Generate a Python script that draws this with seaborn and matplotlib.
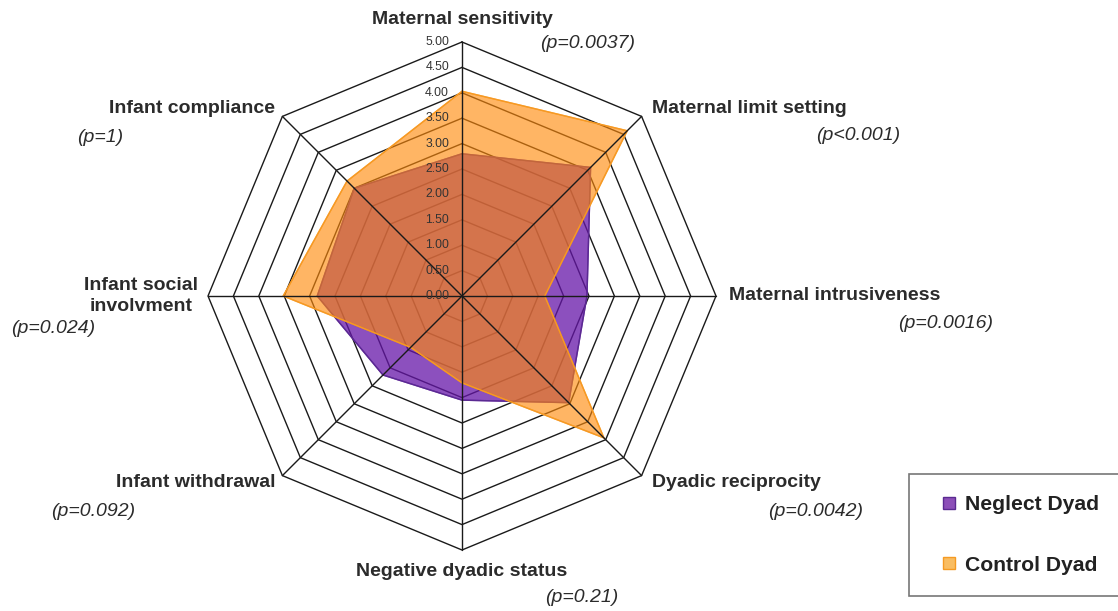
import numpy as np
import matplotlib.pyplot as plt
import seaborn as sns
from matplotlib.lines import Line2D

# radar data
categories = ["Maternal sensitivity", "Maternal limit setting", "Maternal intrusiveness",
              "Dyadic reciprocity", "Negative dyadic status", "Infant withdrawal",
              "Infant social\ninvolvment", "Infant compliance"]
p_values = ["(p=0.0037)", "(p<0.001)", "(p=0.0016)", "(p=0.0042)",
            "(p=0.21)", "(p=0.092)", "(p=0.024)", "(p=1)"]
neglect = [2.80, 3.58, 2.46, 2.97, 2.05, 2.20, 2.85, 3.00]
control = [4.03, 4.60, 1.63, 3.95, 1.71, 1.43, 3.52, 3.20]
ring_levels = [0.5, 1.0, 1.5, 2.0, 2.5, 3.0, 3.5, 4.0, 4.5, 5.0]
tick_labels = ["0.00", "0.50", "1.00", "1.50", "2.00", "2.50",
               "3.00", "3.50", "4.00", "4.50", "5.00"]

sns.set_theme(style="white")
plt.rcParams['font.family'] = ['Liberation Sans', 'DejaVu Sans']

W, H, dpi = 1118, 611, 100
cx, cy, scale = 462, 296, 50.8  # centre in pixels, pixels per unit

fig = plt.figure(figsize=(W / dpi, H / dpi), dpi=dpi)
ax = fig.add_axes([0, 0, 1, 1])
ax.set_xlim(-cx / scale, (W - cx) / scale)
ax.set_ylim(-(H - cy) / scale, cy / scale)
ax.axis('off')

n = len(categories)
angles = np.deg2rad(90 - 45 * np.arange(n))
cos, sin = np.cos(angles), np.sin(angles)

def closed(r):
    r = np.asarray(r)
    x, y = r * cos, r * sin
    return np.append(x, x[0]), np.append(y, y[0])

# octagon rings
for lv in ring_levels:
    x, y = closed([lv] * n)
    ax.plot(x, y, color='#1a1a1a', lw=1.0, zorder=1)

# series
nx, ny = closed(neglect)
ax.fill(nx, ny, color='#6616a8', alpha=0.75, zorder=2)
ax.plot(nx, ny, color='#5a2a91', lw=1.0, zorder=2)
kx, ky = closed(control)
ax.fill(kx, ky, color='#ff8a0a', alpha=0.63, zorder=3)
ax.plot(kx, ky, color='#f59a23', lw=1.0, zorder=3)

# spokes on top
for c, s in zip(cos, sin):
    ax.plot([0, 5 * c], [0, 5 * s], color='#1a1a1a', lw=1.0, zorder=4)

# scale labels along the top spoke
for i, t in enumerate(tick_labels):
    ax.annotate(t, (0, 0.5 * i), xytext=(-13, 0), textcoords='offset pixels',
                ha='right', va='center', fontsize=8.8, color='#333333', zorder=5)

# category labels and p-values (offsets in pixels from spoke end)
label_off = [(0, 23, 'center'), (10, 8, 'left'), (13, 0, 'left'), (10, -7, 'left'),
             (0, -22, 'center'), (-7, -7, 'right'), (-67, 0, 'center'), (-7, 8, 'right')]
p_off = [(126, -1), (217, -19), (230, -27), (174, -36),
         (120, -48), (-189, -36), (-155, -32), (-182, -21)]
for i in range(n):
    end = (5 * cos[i], 5 * sin[i])
    dx, dy, ha = label_off[i]
    ax.annotate(categories[i], end, xytext=(dx, dy), textcoords='offset pixels',
                ha=ha, va='center', ma='center', fontsize=14, fontweight='bold',
                color='#2b2b2b', linespacing=1.3)
    ax.annotate(p_values[i], end, xytext=p_off[i], textcoords='offset pixels',
                ha='center', va='center', fontsize=14, fontstyle='italic',
                color='#2b2b2b')

handles = [
    Line2D([], [], marker='s', ls='none', markersize=8,
           markerfacecolor='#8c4fb8', markeredgecolor='#5a2a91'),
    Line2D([], [], marker='s', ls='none', markersize=8,
           markerfacecolor='#f9bd62', markeredgecolor='#f59a23'),
]
leg = fig.legend(handles, ["Neglect Dyad", "Control Dyad"],
                 loc='upper left', bbox_to_anchor=(909 / W, 1 - 480 / H, (1125 - 909) / W, 0.01),
                 mode='expand', frameon=True, fancybox=False, borderpad=1.0,
                 borderaxespad=0, handlelength=1.83, handletextpad=-0.2, labelspacing=1.97,
                 prop={'size': 15.2, 'weight': 'bold'})
leg.get_frame().set_edgecolor('#555555')
leg.get_frame().set_linewidth(1.2)
for t in leg.get_texts():
    t.set_color('#222222')

fig.savefig('out.png', dpi=dpi, facecolor='white')
